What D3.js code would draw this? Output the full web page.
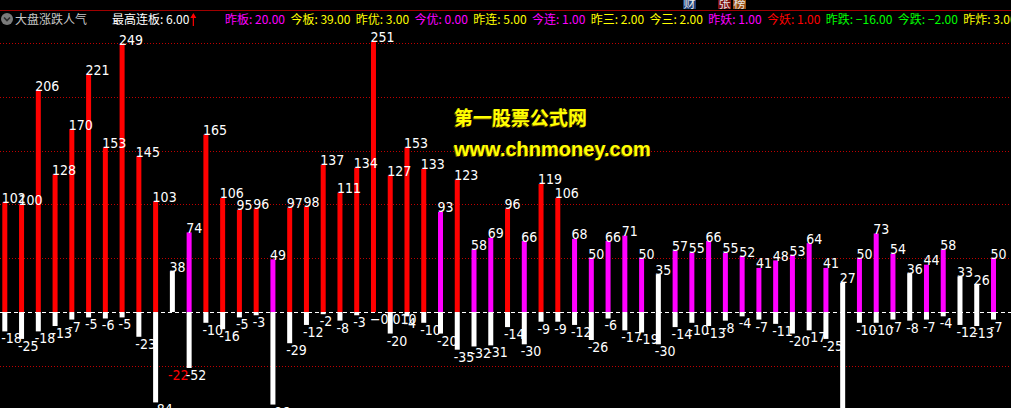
<!DOCTYPE html>
<html>
<head>
<meta charset="utf-8">
<script src="https://cdn.jsdelivr.net/npm/d3@7/dist/d3.min.js"></script>
<style>
  html, body { margin: 0; padding: 0; background: #000; overflow: hidden; }
  svg { display: block; }
</style>
</head>
<body>
<svg id="chart" width="1011" height="408"></svg>
<script>
// ---------------- DATA ----------------
const upValues = [102,100,206,128,170,221,153,249,145,103,
                  38,74,165,106,95,96,49,97,98,137,
                  111,134,251,127,153,133,93,123,58,69,
                  96,66,119,106,68,50,66,71,50,35,
                  57,55,66,55,52,41,48,53,64,41,
                  27,50,73,54,36,44,58,33,26,50];
// r = red, m = magenta, w = white
const upTypes = ["r","r","r","r","r","r","r","r","r","r",
                 "w","m","r","r","r","r","m","r","r","r",
                 "r","r","r","r","r","r","m","r","m","m",
                 "r","m","r","r","m","m","m","m","m","w",
                 "m","m","m","m","m","m","m","m","m","m",
                 "w","m","m","m","w","m","m","w","w","m"];
const downValues = [-18,-25,-18,-13,-7,-5,-6,-5,-23,-84,
                    null,-52,-10,-16,-5,-3,-86,-29,-12,-2,
                    -8,-3,-0.01,-20,-4,-10,-20,-35,-32,-31,
                    -14,-30,-9,-9,-12,-26,-6,-17,-19,-30,
                    -14,-10,-13,-8,-4,-7,-11,-20,-17,-25,
                    -95,-10,-10,-7,-8,-7,-4,-12,-13,-7];
const extraLabels = [{index: 10, at: -52, text: "-22"}];
const gridValues = [-50, 50, 100, 150, 200, 250];

const headerTitle = "大盘涨跌人气";
const topBoardLabel = "最高连板";
const topBoardValue = 6;
const statNames  = ["昨板","今板","昨优","今优","昨连","今连","昨三","今三","昨妖","今妖","昨跌","今跌","昨炸"];
const statValues = [20, 39, 3, 0, 5, 1, 2, 2, 1, 1, -16, -2, 3];
const statColors = ["#ff00ff","#ffff00","#ffff00","#ff00ff","#ffff00","#ff00ff","#ffff00","#ffff00","#ff00ff","#ff0000","#00ff00","#00ff00","#ffff00"];
const topIcons = [{t:"财", bg:"#1d3f78"}, {t:"张", bg:"#7d1010"}, {t:"榜", bg:"#9a4e12"}];

const watermark1 = "第一股票公式网";
const watermark2 = "www.chnmoney.com";

// ---------------- CHART ----------------
const W = 1011, H = 408;
const svg = d3.select("#chart");
svg.append("rect").attr("width", W).attr("height", H).attr("fill", "#000");

const colorOf = {r: "#ff0000", m: "#ff00ff", w: "#ffffff"};
const barW = 5;
const idx = d3.range(upValues.length);
const x = d3.scaleLinear().domain([0, upValues.length - 1]).range([2.3, 991]);
const y = d3.scaleLinear().domain([-89.2, 290]).range([H, 0]);

const numFont = "'Liberation Sans Narrow', 'DejaVu Sans Condensed', 'Liberation Sans', Arial, sans-serif";
const fmtNeg = v => Number.isInteger(v) ? String(v) : d3.format(".3f")(v);

// grid lines
svg.append("g").selectAll("line").data(gridValues).join("line")
  .attr("x1", 0).attr("x2", W)
  .attr("y1", d => Math.round(y(d)) + 0.5).attr("y2", d => Math.round(y(d)) + 0.5)
  .attr("stroke", "#c00000").attr("stroke-width", 1).attr("stroke-dasharray", "1,2");

// zero line
svg.append("line")
  .attr("x1", 0).attr("x2", W)
  .attr("y1", Math.round(y(0)) + 0.5).attr("y2", Math.round(y(0)) + 0.5)
  .attr("stroke", "#ffffff").attr("stroke-width", 1).attr("stroke-dasharray", "4,3");

// positive bars
svg.append("g").selectAll("rect").data(idx).join("rect")
  .attr("x", i => x(i)).attr("width", barW)
  .attr("y", i => y(upValues[i]))
  .attr("height", i => y(0) - y(upValues[i]))
  .attr("fill", i => colorOf[upTypes[i]]);

// negative bars
const negIdx = idx.filter(i => downValues[i] !== null);
svg.append("g").selectAll("rect").data(negIdx).join("rect")
  .attr("x", i => x(i)).attr("width", barW)
  .attr("y", y(0))
  .attr("height", i => y(downValues[i]) - y(0))
  .attr("fill", "#ffffff");

// labels
const labG = svg.append("g").attr("font-family", numFont).attr("font-size", 14).attr("fill", "#fff");
labG.selectAll("text.up").data(idx).join("text").attr("class", "up")
  .attr("x", i => x(i) - 0.5)
  .attr("y", i => y(upValues[i]) + 0.5)
  .text(i => upValues[i]);
labG.selectAll("text.dn").data(negIdx).join("text").attr("class", "dn")
  .attr("x", i => x(i) - 1)
  .attr("y", i => y(downValues[i]) + 12)
  .text(i => fmtNeg(downValues[i]));
labG.selectAll("text.ex").data(extraLabels).join("text").attr("class", "ex")
  .attr("x", d => x(d.index) - 2)
  .attr("y", d => y(d.at) + 12)
  .attr("fill", "#ff0000")
  .text(d => d.text);

// watermark
const wm = svg.append("g").attr("fill", "#ffff00").attr("font-weight", "bold");
[[-1, 1, "#6a4a00"], [0, 0, "#ffff00"]].forEach(([dx, dy, c]) => {
  wm.append("text").attr("x", 454 + dx).attr("y", 125 + dy)
    .attr("font-family", "'Noto Sans CJK SC', sans-serif").attr("font-size", 19)
    .attr("fill", c).text(watermark1);
  wm.append("text").attr("x", 454 + dx).attr("y", 156 + dy)
    .attr("font-family", "'Liberation Sans', Arial, sans-serif").attr("font-size", 20)
    .attr("fill", c).text(watermark2);
});

// ---------------- HEADER ----------------
const hdr = svg.append("g");
hdr.append("rect").attr("x", 0).attr("y", 0).attr("width", W).attr("height", 11).attr("fill", "#000");
hdr.append("line").attr("x1", 0).attr("x2", W).attr("y1", 10.5).attr("y2", 10.5)
  .attr("stroke", "#a00000").attr("stroke-width", 1);
hdr.append("rect").attr("x", 0).attr("y", 11).attr("width", W).attr("height", 18).attr("fill", "#000");

// top icons
const iconX = [683, 718, 733];
topIcons.forEach((ic, k) => {
  hdr.append("rect").attr("x", iconX[k]).attr("y", -4).attr("width", 13).attr("height", 13).attr("fill", ic.bg);
  hdr.append("text").attr("x", iconX[k] + 0.5).attr("y", 7.5)
    .attr("font-family", "'Noto Sans CJK SC', sans-serif").attr("font-size", 12)
    .attr("fill", "#e8e8e8").text(ic.t);
});

// circle icon
hdr.append("circle").attr("cx", 7).attr("cy", 19).attr("r", 6).attr("fill", "#7a7a7a");
hdr.append("path").attr("d", "M4,17.5 L7,20.5 L10,17.5").attr("fill", "none")
  .attr("stroke", "#2a2a2a").attr("stroke-width", 1.6);

const hFont = "'Noto Sans CJK SC', sans-serif";
hdr.append("text").attr("x", 15).attr("y", 24).attr("font-family", hFont).attr("font-size", 12)
  .attr("fill", "#c8c8c8").text(headerTitle);

const tb = hdr.append("text").attr("x", 112).attr("y", 24).attr("font-family", hFont).attr("font-size", 12)
  .attr("fill", "#ffffff").text(topBoardLabel + ": " + d3.format(".2f")(topBoardValue));
const tbEnd = 112 + tb.node().getComputedTextLength();
const ax = tbEnd + 4;
hdr.append("line").attr("x1", ax).attr("x2", ax).attr("y1", 26).attr("y2", 15)
  .attr("stroke", "#ff0000").attr("stroke-width", 1.2);
hdr.append("path").attr("d", `M${ax-3},18 L${ax},13 L${ax+3},18 Z`).attr("fill", "#ff0000");

let cx = 225;
statNames.forEach((n, k) => {
  const t = hdr.append("text").attr("x", cx).attr("y", 24).attr("font-family", hFont).attr("font-size", 12)
    .attr("fill", statColors[k]).text(n + ": " + d3.format(".2f")(statValues[k]));
  cx += t.node().getComputedTextLength() + 5.4;
});
</script>
</body>
</html>
